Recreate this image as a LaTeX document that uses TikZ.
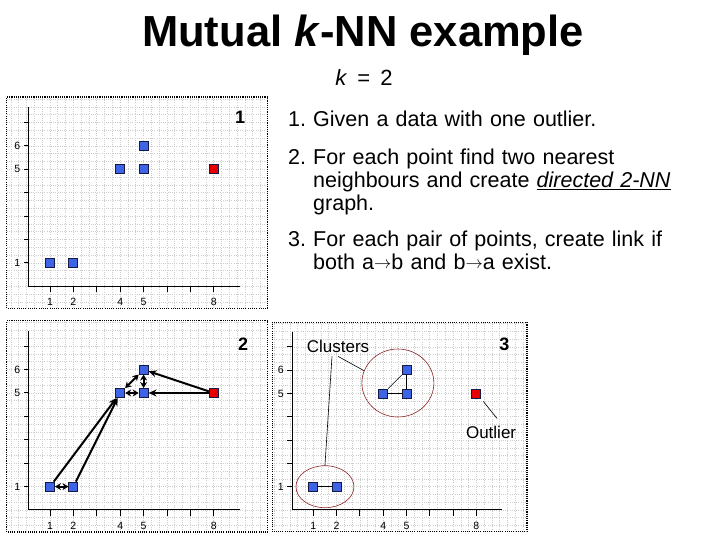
\documentclass[tikz,border=0pt]{standalone}
\usepackage{fontspec}
\setmainfont{Liberation Sans}
\usetikzlibrary{arrows.meta, shapes.geometric}
\definecolor{ptblue}{RGB}{60,100,228}
\definecolor{ptred}{RGB}{228,0,0}
\definecolor{ptedge}{RGB}{20,25,70}
\definecolor{ringred}{RGB}{140,35,35}

% frame, grid, axes and ticks of one plot: xmin, xmax, ymin, ymax
\newcommand{\plotframe}[4]{%
  \begin{scope}
    \clip (#1,#3) rectangle (#2,#4);
    \draw[gr] (#1,#3) grid (#2,#4);
  \end{scope}
  \draw[frm] (#1,#3) rectangle (#2,#4);
  \draw[ax] (0.1,7.65) -- (0.1,0) -- (9.1,0);
  \foreach \t in {1,...,8} \draw[ax] (\t,0) -- (\t,-0.26);
  \foreach \t in {1,...,7} \draw[ax] (0.1,\t) -- (-0.13,\t);
  \foreach \t in {1,2,4,5,8} \node[ticklbl] at (\t,-0.68) {\t};
  \foreach \t in {1,5,6} \node[ticklbl] at (-0.4,\t) {\t};
}
\newcommand{\ra}{\raisebox{1.5pt}{\fontsize{17}{17}\selectfont$\rightarrow$}}

\begin{document}
\begin{tikzpicture}[x=1pt, y=1pt,
    gr/.style={gray!40, line width=0.7pt, dash pattern=on 1pt off 1.2pt, step=0.33333},
    frm/.style={line width=1.1pt, dash pattern=on 1.1pt off 1.1pt},
    ax/.style={line width=1pt},
    ticklbl/.style={font=\fontsize{10.5}{12}\selectfont, inner sep=1pt},
    num/.style={font=\fontsize{18}{20}\selectfont\bfseries, inner sep=1pt},
    pt/.style={draw=ptedge, fill=ptblue, line width=0.9pt, minimum size=9pt, inner sep=0pt},
    outpt/.style={pt, fill=ptred},
    arr/.style={-{Stealth[length=8pt, width=7pt]}, line width=2pt},
    darr/.style={{Stealth[length=6pt, width=7pt]}-{Stealth[length=6pt, width=7pt]}, line width=2pt},
    lnk/.style={line width=1.2pt},
    ring/.style={draw=ringred, ellipse, line width=0.6pt, inner sep=0pt},
    lead/.style={line width=0.6pt},
    lbl/.style={font=\fontsize{17}{20}\selectfont, inner sep=3pt},
    item/.style={font=\fontsize{21.5}{23}\selectfont, text width=400pt, align=left, inner sep=0pt, anchor=base west},
    itemno/.style={font=\fontsize{21.5}{23}\selectfont, inner sep=0pt, anchor=base west}
  ]
  \useasboundingbox (0,0) rectangle (720,540);

  % title
  \node[font=\fontsize{43.5}{48}\selectfont\bfseries, anchor=base] (title) at (363,493)
    {Mutual \textit{k}-NN example};
  \node[font=\fontsize{22}{26}\selectfont, anchor=base] (kval) at (364,454)
    {\textit{k}\hspace{4pt} =\hspace{4pt} 2};

  % plot 1: the data
  \begin{scope}[shift={(26.6,253.7)}, x=23.4pt, y=23.4pt]
    \plotframe{-0.84}{10.3}{-0.93}{8.09}
    \node[num] (n1) at (9.13,7.24) {1};
    \node[pt]    (a1) at (1,1) {};
    \node[pt]    (b1) at (2,1) {};
    \node[pt]    (c1) at (4,5) {};
    \node[pt]    (d1) at (5,5) {};
    \node[pt]    (e1) at (5,6) {};
    \node[outpt] (f1) at (8,5) {};
  \end{scope}

  % plot 2: directed 2-NN graph
  \begin{scope}[shift={(26.6,30)}, x=23.4pt, y=23.4pt]
    \plotframe{-0.84}{10.3}{-0.94}{8.08}
    \node[num] (n2) at (9.25,7.1) {2};
    \node[pt]    (a2) at (1,1) {};
    \node[pt]    (b2) at (2,1) {};
    \node[pt]    (c2) at (4,5) {};
    \node[pt]    (d2) at (5,5) {};
    \node[pt]    (e2) at (5,6) {};
    \node[outpt] (f2) at (8,5) {};
    \draw[darr] (a2) -- (b2);
    \draw[arr]  (a2) -- (c2);
    \draw[arr]  (b2) -- (c2);
    \draw[darr] (c2) -- (d2);
    \draw[darr] (d2) -- (e2);
    \draw[darr] (c2) -- (e2);
    \draw[arr]  (f2) -- (d2);
    \draw[arr]  (f2) -- (e2);
  \end{scope}

  % plot 3: mutual links
  \begin{scope}[shift={(290,30)}, x=23.3pt, y=23.3pt]
    \plotframe{-0.77}{10.17}{-0.94}{8.05}
    \node[num] (n3) at (9.2,7.1) {3};
    \node[ring, minimum width=58pt, minimum height=42pt] (cl1) at (1.5,1) {};
    \node[ring, minimum width=72pt, minimum height=68pt] (cl2) at (4.63,5.45) {};
    \node[pt]    (a3) at (1,1) {};
    \node[pt]    (b3) at (2,1) {};
    \node[pt]    (c3) at (4,5) {};
    \node[pt]    (d3) at (5,5) {};
    \node[pt]    (e3) at (5,6) {};
    \node[outpt] (f3) at (8,5) {};
    \draw[lnk] (a3) -- (b3);
    \draw[lnk] (c3) -- (d3);
    \draw[lnk] (d3) -- (e3);
    \draw[lead] (c3) -- (e3);
    \node[lbl] (clus) at (2.06,7.0) {Clusters};
    \node[lbl] (outl) at (8.63,3.35) {Outlier};
    \draw[lead] ([xshift=-6pt]clus.south) -- (cl1.north);
    \draw[lead] (clus.south) -- (cl2.160);
    \draw[lead] ([shift={(2pt,-3pt)}]f3.south east) -- ([shift={(6pt,4pt)}]outl.north);
  \end{scope}

  % steps
  \node[itemno] (no1) at (288,413) {1.};
  \node[item]   (it1) at (313,413) {Given a data with one outlier.};
  \node[itemno] (no2) at (288,375) {2.};
  \node[item]   (it2) at (313,375) {For each point find two nearest\\
    neighbours and create \underline{\textit{directed 2-NN}}\\ graph.};
  \node[itemno] (no3) at (288,293) {3.};
  \node[item]   (it3) at (313,293) {For each pair of points, create link if\\
    both a\ra b and b\ra a exist.};
\end{tikzpicture}
\end{document}
